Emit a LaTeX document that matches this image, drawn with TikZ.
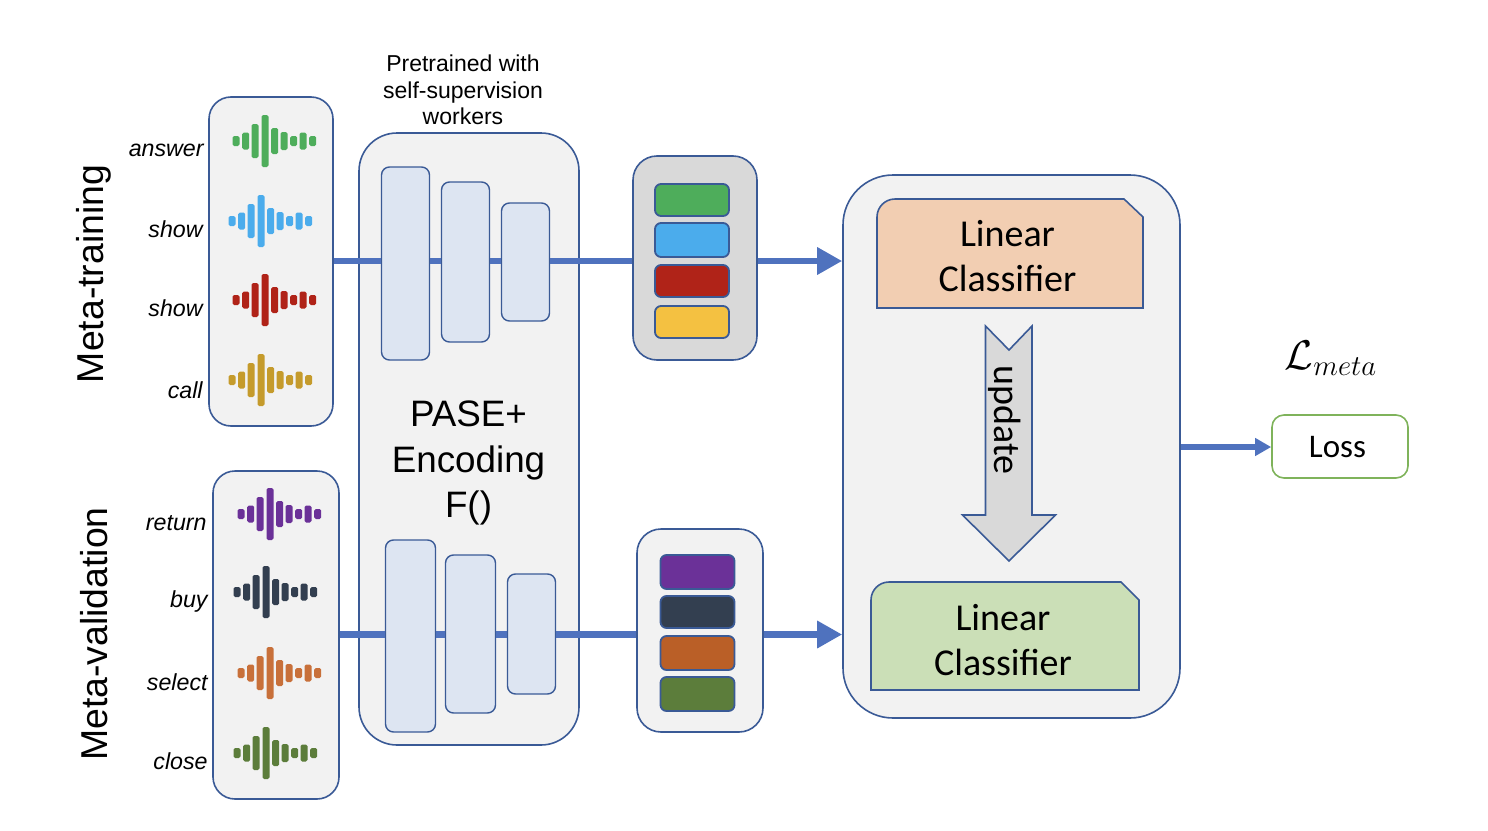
\documentclass[tikz,border=0pt]{standalone}
\usepackage{fontspec}
\setmainfont{Liberation Sans}
\newfontfamily\calib{Carlito}
\usetikzlibrary{arrows.meta}
\definecolor{edgeblue}{HTML}{3A5A96}
\definecolor{flowblue}{HTML}{4F72BE}
\definecolor{panelgrey}{HTML}{F2F2F2}
\definecolor{midgrey}{HTML}{D9D9D9}
\definecolor{blockblue}{HTML}{DDE5F2}
\definecolor{wgreen}{HTML}{4EAD5B}
\definecolor{wblue}{HTML}{4BACEC}
\definecolor{wred}{HTML}{B02318}
\definecolor{wyellow}{HTML}{F4C141}
\definecolor{wgold}{HTML}{C59B2C}
\definecolor{wpurple}{HTML}{6B3198}
\definecolor{wdark}{HTML}{333F50}
\definecolor{worange}{HTML}{BA5F27}
\definecolor{wworange}{HTML}{C8703A}
\definecolor{wolive}{HTML}{5C7D3B}
\definecolor{peach}{HTML}{F2CEB2}
\definecolor{leaf}{HTML}{CBDFB7}
\definecolor{lossgreen}{HTML}{7FB35B}
\tikzset{
  panel/.style={draw=edgeblue,line width=0.8pt,fill=panelgrey,rounded corners=#1,inner sep=0pt},
  block/.style={draw=edgeblue,line width=0.7pt,fill=blockblue,rounded corners=4pt,inner sep=0pt},
  chip/.style={draw=edgeblue,line width=0.9pt,fill=#1,rounded corners=3pt,inner sep=0pt,minimum width=37pt},
  wordlabel/.style={font=\fontsize{11.6}{13}\selectfont\itshape,anchor=east,inner sep=0pt},
  sidelabel/.style={font=\fontsize{18.7}{22}\selectfont,rotate=90,inner sep=0pt},
  clsbox/.style={draw=edgeblue,line width=0.8pt,fill=#1},
  clstext/.style={font=\calib\fontsize{19}{22.5}\selectfont,align=center,inner sep=0pt},
  flow/.style={draw=flowblue,line width=3.4pt},
  flowarrow/.style={flow,-{Triangle[length=12.5pt,width=13pt]}},
  pics/wave/.style={code={
    \foreach \dx/\h in {-29/5,-19.3/8.5,-10/17,0/26,9.7/13,19/9,28.7/5,38/8.5,47.7/5}
      \fill[#1,rounded corners=0.8pt] (\dx-3.5,-\h) rectangle (\dx+3.5,\h);
  }}
}
\begin{document}
\begin{tikzpicture}[x=0.5pt,y=-0.5pt]
\useasboundingbox (0,0) rectangle (1488,830);
\coordinate (trainline) at (0,261);
\coordinate (valline) at (0,634.5);
\coordinate (lossline) at (0,447);

% panels
\node[panel=11pt,minimum width=62pt,minimum height=164.5pt] (trainset) at (271,261.5) {};
\node[panel=11pt,minimum width=63pt,minimum height=164pt] (valset) at (276,635) {};
\node[panel=19pt,minimum width=110pt,minimum height=306pt] (encoder) at (469,439) {};
\node[panel=12pt,fill=midgrey,minimum width=62pt,minimum height=102pt] (feattrain) at (695,258) {};
\node[panel=12pt,minimum width=63pt,minimum height=101.5pt] (featval) at (700,630.5) {};
\node[panel=25pt,minimum width=168.5pt,minimum height=271.5pt] (head) at (1011.5,446.5) {};

% encoder blocks
\node[block,minimum width=24pt,minimum height=96.5pt] (ta) at (405.5,263.5) {};
\node[block,minimum width=24pt,minimum height=80pt] (tb) at (465.5,262) {};
\node[block,minimum width=24pt,minimum height=59pt] (tc) at (525.5,262) {};
\node[block,minimum width=25pt,minimum height=96pt] (va) at (410.5,636) {};
\node[block,minimum width=25pt,minimum height=79pt] (vb) at (470.5,634) {};
\node[block,minimum width=24pt,minimum height=60pt] (vc) at (531.5,634) {};

% chips
\node[chip=wgreen,minimum height=16pt] (c1) at (692,200) {};
\node[chip=wblue,minimum height=17pt] (c2) at (692,240) {};
\node[chip=wred,minimum height=16pt] (c3) at (692,281) {};
\node[chip=wyellow,minimum height=16pt] (c4) at (692,322) {};
\node[chip=wpurple,minimum height=17pt] (d1) at (697.5,572) {};
\node[chip=wdark,minimum height=16pt] (d2) at (697.5,612) {};
\node[chip=worange,minimum height=17pt] (d3) at (697.5,653) {};
\node[chip=wolive,minimum height=17pt] (d4) at (697.5,694) {};

% waveforms
\pic at (265,141) {wave=wgreen};
\pic at (261,221) {wave=wblue};
\pic at (265,300) {wave=wred};
\pic at (261,380) {wave=wgold};
\pic at (270,514) {wave=wpurple};
\pic at (266,592) {wave=wdark};
\pic at (270,673) {wave=wworange};
\pic at (266,753) {wave=wolive};

% word labels
\node[wordlabel] (w1) at (204,150) {answer};
\node[wordlabel] (w2) at (203,229) {show};
\node[wordlabel] (w3) at (203,308) {show};
\node[wordlabel] (w4) at (203,390) {call};
\node[wordlabel] (w5) at (207,523) {return};
\node[wordlabel] (w6) at (208,601) {buy};
\node[wordlabel] (w7) at (208,682) {select};
\node[wordlabel] (w8) at (208,761) {close};

\node[sidelabel] (mt) at (94,274) {Meta-training};
\node[sidelabel] (mv) at (94,634) {Meta-validation};

\node[font=\fontsize{11.5}{13.25}\selectfont,align=center,inner sep=0pt] (pre) at (463,90) {Pretrained with\\self-supervision\\workers};
\node[font=\fontsize{18.4}{22.75}\selectfont,align=center,inner sep=0pt] (pase) at (468.5,463) {PASE+\\Encoding\\F()};

% connectors
\draw[flow] (trainset.east |- trainline) -- (ta.west |- trainline);
\draw[flow] (ta.east |- trainline) -- (tb.west |- trainline);
\draw[flow] (tb.east |- trainline) -- (tc.west |- trainline);
\draw[flow] (tc.east |- trainline) -- (feattrain.west |- trainline);
\draw[flowarrow] (feattrain.east |- trainline) -- (head.west |- trainline);
\draw[flow] (valset.east |- valline) -- (va.west |- valline);
\draw[flow] (va.east |- valline) -- (vb.west |- valline);
\draw[flow] (vb.east |- valline) -- (vc.west |- valline);
\draw[flow] (vc.east |- valline) -- (featval.west |- valline);
\draw[flowarrow] (featval.east |- valline) -- (head.west |- valline);

% classifiers
\draw[clsbox=peach] (877,308) -- (877,217) arc[start angle=180,end angle=270,radius=18] -- (1124,199) -- (1143,217) -- (1143,308) -- cycle;
\node[clstext] (lc1) at (1007.5,256.5) {Linear\\Classifier};
\draw[clsbox=leaf] (871,690) -- (871,600) arc[start angle=180,end angle=270,radius=18] -- (1121,582) -- (1139,600) -- (1139,690) -- cycle;
\node[clstext] (lc2) at (1003,640.5) {Linear\\Classifier};

% update arrow
\draw[draw=edgeblue,line width=0.8pt,fill=midgrey] (985.5,326) -- (1009,350) -- (1032,326) -- (1032,515) -- (1055.5,515) -- (1009,561) -- (962.5,515) -- (985.5,515) -- cycle;
\node[font=\calib\fontsize{19}{22}\selectfont,rotate=-90,inner sep=0pt] (upd) at (1005,420) {update};

% loss
\node[draw=lossgreen,line width=0.8pt,rounded corners=6pt,minimum width=68pt,minimum height=31.5pt,inner sep=0pt,font=\calib\fontsize{16.5}{20}\selectfont] (loss) at (1340,446.5) {};
\node[font=\calib\fontsize{16.5}{20}\selectfont,inner sep=0pt] (losstext) at (1337.5,447.5) {Loss};
\draw[draw=flowblue,line width=2.8pt,-{Triangle[length=8pt,width=8.5pt]}] (head.east |- lossline) -- (loss.west |- lossline);
\node[font=\fontsize{19.4}{22}\selectfont,inner sep=0pt] (lmeta) at (1331,358) {$\mathcal{L}_{meta}$};
\end{tikzpicture}
\end{document}
